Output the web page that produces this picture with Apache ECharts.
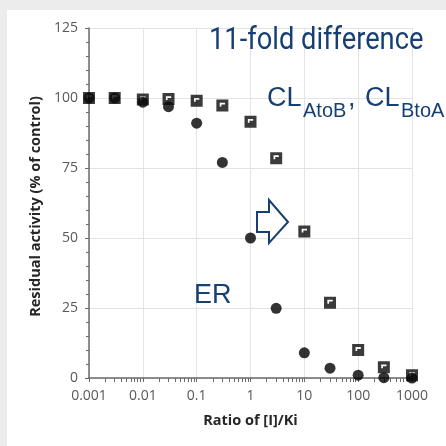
<!DOCTYPE html>
<html>
<head>
<meta charset="utf-8">
<script src="https://cdn.jsdelivr.net/npm/echarts@6/dist/echarts.min.js"></script>
<style>
  html, body { margin: 0; padding: 0; background: #ececec; }
  #panel { position: absolute; left: 7px; top: 10px; width: 439px; height: 436px; background: #ffffff; }
  #chart { position: absolute; left: 0; top: 0; width: 446px; height: 446px; }
</style>
</head>
<body>
<div id="panel"></div>
<div id="chart"></div>
<script>
// ---- data ----
var ratios = [0.001, 0.003, 0.01, 0.03, 0.1, 0.3, 1, 3, 10, 30, 100, 300, 1000];
var erValues = [100, 100, 98.5, 96.9, 91, 77, 50, 24.9, 9, 3.5, 1, 0.1, 0];
var clValues = [100, 100, 99.5, 99.6, 99, 97.3, 91.5, 78.5, 52.3, 26.9, 10, 3.8, 1];
var xTickLabels = ['0.001', '0.01', '0.1', '1', '10', '100', '1000'];
var yTickLabels = ['0', '25', '50', '75', '100', '125'];

var navy = '#183f72';
var squarePath = 'path://M0,0 L10,0 L10,10 L0,10 Z M2.8,2.6 L2.8,5.8 L4.2,5.8 L4.2,4.1 L7.2,4.1 L7.2,2.6 Z';

function pairs(xs, ys) { return xs.map(function (x, i) { return [x, ys[i]]; }); }

var chart = echarts.init(document.getElementById('chart'), null, { renderer: 'canvas' });
chart.setOption({
  backgroundColor: 'transparent',
  animation: false,
  textStyle: { fontFamily: 'Open Sans' },
  grid: { left: 89, right: 34, top: 28, bottom: 68, containLabel: false },
  xAxis: {
    type: 'log', logBase: 10, min: 0.001, max: 1000,
    name: 'Ratio of [I]/Ki', nameLocation: 'middle', nameGap: 35,
    nameTextStyle: { fontFamily: 'Open Sans', fontWeight: 'bold', fontSize: 14.5, color: '#262626' },
    axisLine: { show: true, onZero: false, lineStyle: { color: '#6b6b6b', width: 1.5 } },
    axisTick: { show: true, inside: false, length: 4, lineStyle: { color: '#6b6b6b' } },
    minorTick: { show: true, splitNumber: 9, length: 4, lineStyle: { color: '#6b6b6b' } },
    axisLabel: {
      margin: 11, color: '#595959', fontSize: 14, fontFamily: 'Open Sans',
      formatter: function (v) {
        var e = Math.round(Math.log10(v)) + 3;
        return xTickLabels[e] !== undefined ? xTickLabels[e] : '';
      }
    },
    splitLine: { show: true, lineStyle: { color: '#e3e3e3', width: 1 } }
  },
  yAxis: {
    type: 'value', min: 0, max: 125, interval: 25,
    name: 'Residual activity (% of control)', nameLocation: 'middle', nameGap: 41,
    nameTextStyle: { fontFamily: 'Open Sans', fontWeight: 'bold', fontSize: 14.5, color: '#262626', padding: [0, 7, 0, 0] },
    axisLine: { show: true, lineStyle: { color: '#6b6b6b', width: 1.5 } },
    axisTick: { show: true, inside: false, length: 4, lineStyle: { color: '#6b6b6b' } },
    minorTick: { show: true, splitNumber: 5, length: 3, lineStyle: { color: '#6b6b6b' } },
    axisLabel: {
      margin: 11, color: '#595959', fontSize: 14, fontFamily: 'Open Sans',
      formatter: function (v) { return yTickLabels[Math.round(v / 25)]; }
    },
    splitLine: { show: true, lineStyle: { color: '#e3e3e3', width: 1 } }
  },
  series: [
    {
      name: 'ER', type: 'scatter', data: pairs(ratios, erValues),
      symbol: 'circle', symbolSize: 11, z: 3,
      itemStyle: { color: '#000000' }
    },
    {
      name: 'CL', type: 'scatter', data: pairs(ratios, clValues),
      symbol: squarePath, symbolSize: 12, z: 4,
      itemStyle: { color: '#0a0a0a' }
    }
  ],
  graphic: {
    elements: [
      { type: 'text', x: 209, y: 26, z: 100, scaleX: 0.88, scaleY: 1, style: { text: '11-fold difference', fill: navy, font: '31px Roboto', verticalAlign: 'top' } },
      { type: 'text', x: 267, y: 85, z: 100, style: { text: 'CL', fill: navy, font: '27px "Liberation Sans"', verticalAlign: 'top' } },
      { type: 'text', x: 303, y: 101, z: 100, style: { text: 'AtoB', fill: navy, font: '20px "Liberation Sans"', verticalAlign: 'top' } },
      { type: 'text', x: 348, y: 85, z: 100, style: { text: ',', fill: navy, font: '27px "Liberation Sans"', verticalAlign: 'top' } },
      { type: 'text', x: 365, y: 85, z: 100, style: { text: 'CL', fill: navy, font: '27px "Liberation Sans"', verticalAlign: 'top' } },
      { type: 'text', x: 401, y: 101, z: 100, style: { text: 'BtoA', fill: navy, font: '20px "Liberation Sans"', verticalAlign: 'top' } },
      { type: 'text', x: 194, y: 282, z: 100, style: { text: 'ER', fill: navy, font: '27px "Liberation Sans"', verticalAlign: 'top' } },
      { type: 'polygon', z: 100, shape: { points: [[257, 212], [269, 212], [269, 200], [288, 222], [269, 243], [269, 232], [257, 232]] },
        style: { fill: '#ffffff', stroke: navy, lineWidth: 2 } }
    ]
  }
});
</script>
</body>
</html>
